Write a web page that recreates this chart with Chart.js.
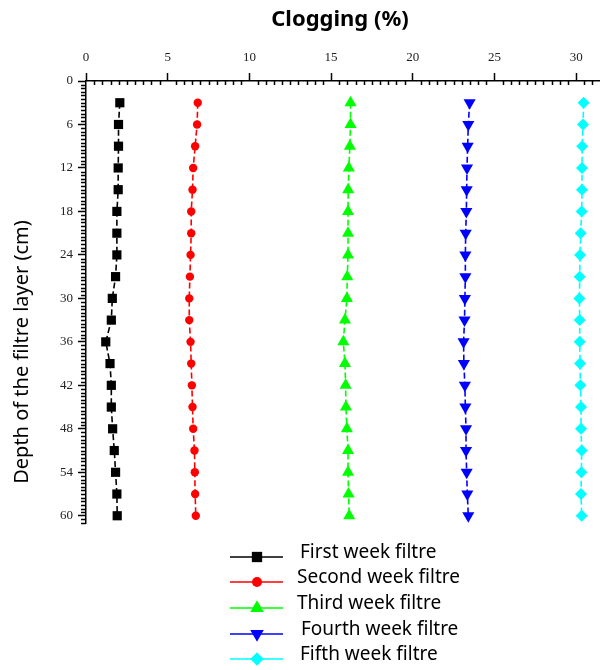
<!DOCTYPE html>
<html>
<head>
<meta charset="utf-8">
<script src="https://cdn.jsdelivr.net/npm/chart.js@4"></script>
<style>
  body { margin: 0; background: #fff; }
</style>
</head>
<body>
<canvas id="chartColmatacion" width="606" height="670"></canvas>
<script>
// profundidad de la capa filtrante (cm)
const depths = [3, 6, 9, 12, 15, 18, 21, 24, 27, 30, 33, 36, 39, 42, 45, 48, 51, 54, 57, 60];
const yTicks = [0, 6, 12, 18, 24, 30, 36, 42, 48, 54, 60];
const xTicks = [0, 5, 10, 15, 20, 25, 30];

// colmatación (%) por semana
const week1 = [2.07, 1.99, 1.99, 1.97, 1.97, 1.89, 1.89, 1.89, 1.81, 1.61, 1.55, 1.21, 1.47, 1.55, 1.55, 1.63, 1.73, 1.81, 1.89, 1.91];
const week2 = [6.84, 6.80, 6.68, 6.56, 6.52, 6.44, 6.44, 6.40, 6.36, 6.32, 6.32, 6.40, 6.44, 6.48, 6.52, 6.56, 6.64, 6.66, 6.68, 6.72];
const week3 = [16.19, 16.19, 16.15, 16.09, 16.05, 16.04, 16.04, 16.04, 15.99, 15.97, 15.85, 15.75, 15.85, 15.89, 15.91, 15.97, 16.04, 16.04, 16.07, 16.11];
const week4 = [23.48, 23.40, 23.36, 23.32, 23.30, 23.28, 23.24, 23.22, 23.22, 23.19, 23.17, 23.11, 23.13, 23.19, 23.22, 23.26, 23.26, 23.30, 23.34, 23.40];
const week5 = [30.46, 30.42, 30.37, 30.36, 30.36, 30.34, 30.28, 30.24, 30.22, 30.20, 30.22, 30.22, 30.24, 30.26, 30.30, 30.30, 30.34, 30.32, 30.30, 30.34];

const seriesNames = ['First week filtre', 'Second week filtre', 'Third week filtre', 'Fourth week filtre', 'Fifth week filtre'];

const FONT_MANO = '"Comic Sans MS", "Noto Sans", sans-serif';

function serie(label, values, color, pointStyle, radius, rotation) {
    return {
        label,
        data: values.map((v, i) => ({ x: v, y: depths[i] })),
        borderColor: color,
        backgroundColor: color,
        borderWidth: 1.6,
        borderDash: [6, 3],
        pointStyle,
        pointRadius: radius,
        pointRotation: rotation,
        pointBorderWidth: 0,
        tension: 0
    };
}

// ticks menores + títulos de ejes
const ejesExtra = {
    id: 'ejesExtra',
    afterDraw(chart) {
        const { ctx, chartArea, scales } = chart;
        const sx = scales.x, sy = scales.y;
        ctx.save();
        ctx.strokeStyle = '#000';
        ctx.lineWidth = 1.5;
        ctx.beginPath();
        for (let v = 0; v <= sx.max; v += 0.5) {
            if (v % 5 === 0) continue;
            const px = Math.round(sx.getPixelForValue(v)) + 0.5;
            ctx.moveTo(px, chartArea.top);
            ctx.lineTo(px, chartArea.top + 4);
        }
        for (let v = 0; v <= sy.max; v += 0.5) {
            if (v % 6 === 0) continue;
            const py = Math.round(sy.getPixelForValue(v)) + 0.5;
            ctx.moveTo(chartArea.left - 5, py);
            ctx.lineTo(chartArea.left, py);
        }
        ctx.stroke();

        ctx.fillStyle = '#000';
        ctx.textAlign = 'center';
        ctx.textBaseline = 'middle';
        ctx.font = 'bold 22px ' + FONT_MANO;
        ctx.fillText('Clogging (%)', 340, 20);

        ctx.translate(22, 352);
        ctx.rotate(-Math.PI / 2);
        ctx.font = '20px ' + FONT_MANO;
        ctx.fillText('Depth of the filtre layer (cm)', 0, 0);
        ctx.restore();
    }
};

// leyenda con línea y marcador
const leyenda = {
    id: 'leyenda',
    afterDraw(chart) {
        const { ctx } = chart;
        const filas = [557, 582, 608, 634, 659];
        const textoX = [300, 297, 297, 301, 300];
        ctx.save();
        chart.data.datasets.forEach((ds, i) => {
            const y = filas[i];
            ctx.strokeStyle = ds.borderColor;
            ctx.lineWidth = 1.6;
            ctx.beginPath();
            ctx.moveTo(230, y);
            ctx.lineTo(283, y);
            ctx.stroke();
            ctx.fillStyle = ds.backgroundColor;
            Chart.helpers.drawPoint(ctx, {
                pointStyle: ds.pointStyle,
                radius: ds.pointRadius + 0.8,
                rotation: ds.pointRotation,
                borderWidth: 0
            }, 257, y);
            ctx.fillStyle = '#000';
            ctx.textAlign = 'left';
            ctx.textBaseline = 'middle';
            ctx.font = '19px ' + FONT_MANO;
            ctx.fillText(ds.label, textoX[i], y - 4);
        });
        ctx.restore();
    }
};

new Chart(document.getElementById('chartColmatacion'), {
    type: 'line',
    data: {
        datasets: [
            serie(seriesNames[0], week1, '#000000', 'rect', 6.5, 0),
            serie(seriesNames[1], week2, '#ff0000', 'circle', 4.2, 0),
            serie(seriesNames[2], week3, '#00ff00', 'triangle', 7, 0),
            serie(seriesNames[3], week4, '#0000ff', 'triangle', 7, 180),
            serie(seriesNames[4], week5, '#00ffff', 'rectRot', 6, 0)
        ]
    },
    options: {
        responsive: false,
        animation: false,
        layout: { padding: { left: 36, top: 0, right: 0, bottom: 147 } },
        plugins: { legend: { display: false }, tooltip: { enabled: false } },
        scales: {
            x: {
                type: 'linear',
                position: 'top',
                min: 0,
                max: 31.4,
                afterFit: s => { s.height = 81; },
                afterBuildTicks: s => { s.ticks = xTicks.map(v => ({ value: v })); },
                ticks: { padding: 8, color: '#222', font: { family: '"Liberation Serif", serif', size: 13 } },
                grid: { drawOnChartArea: false, tickLength: 8, tickColor: '#000', tickWidth: 1.5 },
                border: { color: '#000', width: 1.5 }
            },
            y: {
                type: 'linear',
                reverse: true,
                min: 0,
                max: 61,
                afterFit: s => { s.width = 50; },
                afterBuildTicks: s => { s.ticks = yTicks.map(v => ({ value: v })); },
                ticks: { padding: 5, color: '#222', font: { family: '"Liberation Serif", serif', size: 13 } },
                grid: { drawOnChartArea: false, tickLength: 8, tickColor: '#000', tickWidth: 1.5 },
                border: { color: '#000', width: 1.5 }
            }
        }
    },
    plugins: [ejesExtra, leyenda]
});
</script>
</body>
</html>
